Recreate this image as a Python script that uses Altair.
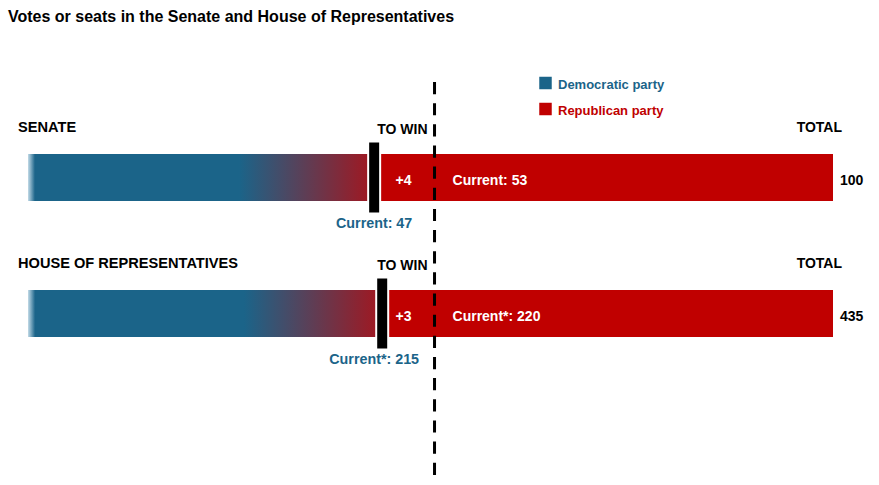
import altair as alt
import pandas as pd

# ---- data -------------------------------------------------------------
title = "Votes or seats in the Senate and House of Representatives"
chambers = ["SENATE", "HOUSE OF REPRESENTATIVES"]
totals = [100, 435]
dem_current = [47, 215]
rep_current = [53, 220]
seats_to_win = [4, 3]
current_note = ["", "*"]
# schematic (not-to-scale) positions, in % of bar length
marker_pos = [43.0, 44.0]
dem_label_pos = [43.0, 43.0]
majority_pos = 50.5
parties = ["Democratic party", "Republican party"]
party_colors = ["#1B6489", "#C00000"]

BLUE, RED = party_colors
FONT = "Liberation Sans"

df = pd.DataFrame({
    "row": [0, 1],
    "chamber": chambers,
    "start": [0, 0],
    "end": [100, 100],
    "marker": marker_pos,
    "dem_lab_x": dem_label_pos,
    "majority": [majority_pos] * 2,
    "dem_label": [f"Current{n}: {d}" for n, d in zip(current_note, dem_current)],
    "rep_label": [f"Current{n}: {r}" for n, r in zip(current_note, rep_current)],
    "win_label": [f"+{w}" for w in seats_to_win],
    "total_label": [str(t) for t in totals],
    "to_win_hdr": ["TO WIN"] * 2,
    "total_hdr": ["TOTAL"] * 2,
})

xs = alt.Scale(domain=[0, 100], range=[28, 833], nice=False, zero=False, padding=0)
ys = alt.Scale(domain=[0, 1], range=[177.5, 313.5], nice=False, zero=False, padding=0)
base = alt.Chart(df)
Y = alt.Y("row:Q", scale=ys, axis=None)


def X(f):
    return alt.X(f"{f}:Q", scale=xs, axis=None)


grad = alt.LinearGradient(
    gradient="linear", x1=0, x2=1, y1=0, y2=0,
    stops=[
        alt.GradientStop(offset=0, color="#c3dbe8"),
        alt.GradientStop(offset=0.02, color=BLUE),
        alt.GradientStop(offset=0.61, color=BLUE),
        alt.GradientStop(offset=1, color="#A3161F"),
    ],
)

red_bar = base.mark_bar(color=RED, size=47).encode(x=X("start"), x2="end:Q", y=Y)
dem_bar = base.mark_bar(color=grad, size=47).encode(x=X("start"), x2="marker:Q", y=Y)
gap = base.mark_tick(color="white", orient="vertical", thickness=14, size=47,
                     opacity=1).encode(x=X("marker"), y=Y)
marker = base.mark_tick(color="black", orient="vertical", thickness=10, size=70,
                        opacity=1).encode(x=X("marker"), y=Y)

majority_rule = alt.Chart(pd.DataFrame({"majority": [majority_pos]})).mark_rule(
    color="black", strokeWidth=3, strokeDash=[12.2, 8.95]
).encode(x=X("majority"), y=alt.value(82), y2=alt.value(475))


def txt(field, xfield, dy, align, color="black", dx=0, size=14):
    return base.mark_text(
        font=FONT, fontSize=size, fontWeight="bold", align=align,
        baseline="alphabetic", dx=dx, dy=dy, color=color
    ).encode(x=X(xfield), y=Y, text=f"{field}:N")


texts = [
    txt("chamber", "start", -45.5, "left", dx=-10, size=14.6),
    txt("to_win_hdr", "majority", -43.5, "right", dx=-7),
    txt("total_hdr", "end", -45.5, "right", dx=9),
    txt("total_label", "end", 7.5, "left", dx=7),
    txt("win_label", "majority", 7.5, "left", color="white", dx=-39),
    txt("rep_label", "majority", 7.5, "left", color="white", dx=18),
    txt("dem_label", "dem_lab_x", 50, "center", color=BLUE, size=14.3),
]

title_mark = alt.Chart(pd.DataFrame({"t": [title]})).mark_text(
    font=FONT, fontSize=16, fontWeight="bold", align="left",
    baseline="alphabetic", color="black"
).encode(text="t:N", x=alt.value(8), y=alt.value(22))

legend_y = [83, 109]
legend_layers = []
for p, c, ly in zip(parties, party_colors, legend_y):
    ldf = alt.Chart(pd.DataFrame({"party": [p]}))
    legend_layers.append(
        ldf.mark_square(size=156, color=c, opacity=1).encode(
            x=alt.value(545.5), y=alt.value(ly))
    )
    legend_layers.append(
        ldf.mark_text(font=FONT, fontSize=13, fontWeight="bold", align="left",
                      baseline="alphabetic", color=c).encode(
            text="party:N", x=alt.value(558), y=alt.value(ly + 6))
    )

chart = alt.layer(
    red_bar, dem_bar, gap, marker, majority_rule, *texts, title_mark, *legend_layers
).properties(
    width=879, height=485, padding=0, autosize="none", background="white"
).configure_view(stroke=None)

chart.save("out.html", embed_options={"renderer": "svg", "actions": False})
